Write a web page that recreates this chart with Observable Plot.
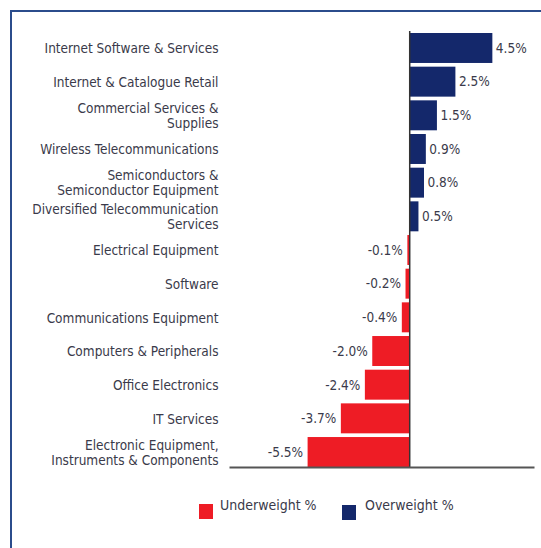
<!DOCTYPE html>
<html>
<head>
<meta charset="utf-8">
<script src="https://cdn.jsdelivr.net/npm/d3@7"></script>
<script src="https://cdn.jsdelivr.net/npm/@observablehq/plot@0.6"></script>
<style>
  html, body { margin: 0; padding: 0; background: #fff; }
  #wrap { position: relative; width: 541px; height: 548px; overflow: hidden; font-family: "DejaVu Sans Condensed", "Liberation Sans Narrow", "Liberation Sans", sans-serif; }
  #frameL { position: absolute; left: 10px; top: 10px; width: 2px; height: 540px; background: #2b4c8c; }
  #frameT { position: absolute; left: 10px; top: 10px; width: 540px; height: 2px; background: #2b4c8c; }
  #chart { position: absolute; left: 0; top: 0; }
  .leg { position: absolute; font-size: 14px; color: #3a3a4a; }
  .sw { position: absolute; width: 14px; height: 15px; }
</style>
</head>
<body>
<div id="wrap">
  <div id="chart"></div>
  <div id="frameL"></div>
  <div id="frameT"></div>
  <div class="sw" style="left:199px; top:504px; background:#ee1c25;"></div>
  <div class="leg" style="left:220px; top:497px;">Underweight %</div>
  <div class="sw" style="left:342px; top:505px; background:#14286b;"></div>
  <div class="leg" style="left:365px; top:497px;">Overweight %</div>
</div>
<script>
const categories = [
  "Internet Software & Services",
  "Internet & Catalogue Retail",
  "Commercial Services & Supplies",
  "Wireless Telecommunications",
  "Semiconductors & Semiconductor Equipment",
  "Diversified Telecommunication Services",
  "Electrical Equipment",
  "Software",
  "Communications Equipment",
  "Computers & Peripherals",
  "Office Electronics",
  "IT Services",
  "Electronic Equipment, Instruments & Components"
];
const tickLabels = [
  "Internet Software & Services",
  "Internet & Catalogue Retail",
  "Commercial Services &\nSupplies",
  "Wireless Telecommunications",
  "Semiconductors &\nSemiconductor Equipment",
  "Diversified Telecommunication\nServices",
  "Electrical Equipment",
  "Software",
  "Communications Equipment",
  "Computers & Peripherals",
  "Office Electronics",
  "IT Services",
  "Electronic Equipment,\nInstruments & Components"
];
const values = [4.5, 2.5, 1.5, 0.9, 0.8, 0.5, -0.1, -0.2, -0.4, -2.0, -2.4, -3.7, -5.5];

const data = categories.map((c, i) => ({cat: c, v: values[i]}));
const labelOf = new Map(categories.map((c, i) => [c, tickLabels[i]]));
const pos = data.filter(d => d.v >= 0);
const neg = data.filter(d => d.v < 0);
const fmt = d => d.v.toFixed(1) + "%";
const FONT = '"DejaVu Sans Condensed", "Liberation Sans Narrow", "Liberation Sans", sans-serif';

const plot = Plot.plot({
  width: 541,
  height: 490,
  marginLeft: 230,
  marginRight: 8,
  marginTop: 33,
  marginBottom: 23,
  style: {fontFamily: FONT, fontSize: "13.5px", color: "#3a3a4a"},
  x: {domain: [-9.7, 6.7], axis: null},
  y: {domain: categories, paddingInner: 0.11, paddingOuter: 0, round: false, axis: null},
  marks: [
    Plot.barX(data, {x: "v", y: "cat", fill: d => d.v < 0 ? "#ee1c25" : "#14286b"}),
    Plot.ruleX([0], {stroke: "#333", strokeWidth: 1.5, insetTop: -2}),
    Plot.frame({anchor: "bottom", stroke: "#555", strokeWidth: 2}),
    Plot.axisY({anchor: "left", tickSize: 0, tickPadding: 12, tickFormat: d => labelOf.get(d), fontSize: 13.5, lineHeight: 1.1, fill: "#3a3a4a", label: null}),
    Plot.text(pos, {x: "v", y: "cat", text: fmt, textAnchor: "start", dx: 3, fill: "#3a3a4a", fontSize: 13.5}),
    Plot.text(neg, {x: "v", y: "cat", text: fmt, textAnchor: "end", dx: -5, fill: "#3a3a4a", fontSize: 13.5})
  ]
});
document.getElementById("chart").appendChild(plot);
</script>
</body>
</html>
